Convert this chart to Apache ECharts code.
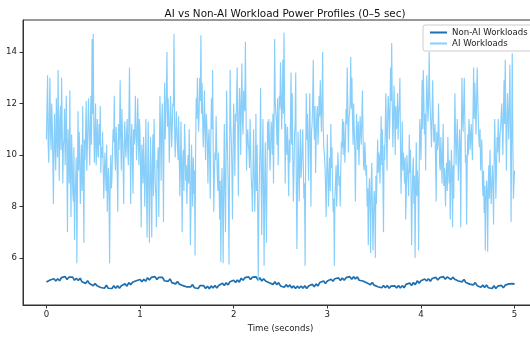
<!DOCTYPE html>
<html>
<head>
<meta charset="utf-8">
<script src="https://cdn.jsdelivr.net/npm/echarts@6.0.0/dist/echarts.min.js"></script>
<style>
html,body{margin:0;padding:0;background:#fff;}
#chart{width:530px;height:338px;}
</style>
</head>
<body>
<div id="chart"></div>
<script>
// ---- data ----
const titleText = 'AI vs Non-AI Workload Power Profiles (0\u20135 sec)';
const xName = 'Time (seconds)';
const seriesNames = ['Non-AI Workloads', 'AI Workloads'];
const xTicks = [0, 1, 2, 3, 4, 5];
const yTicks = [6, 8, 10, 12, 14];
const timeStart = 0;
const timeEnd = 5;

// AI workload power, main samples evenly over 0..5 s
const aiPower = [
10.6,13.1,9.7,13.0,10.2,11.3,8.1,11.6,9.4,10.8,
13.3,9.0,11.9,13.0,8.9,10.6,9.6,12.3,7.0,9.8,
12.5,7.6,9.9,8.2,6.7,9.1,5.8,11.7,10.9,8.1,
10.4,11.9,6.6,9.8,12.1,10.3,12.2,9.6,12.3,14.5,
14.7,9.7,12.0,10.5,10.0,11.2,11.9,10.3,10.9,8.3,
10.1,8.6,7.8,9.5,5.8,10.0,9.1,11.0,12.3,9.4,
10.6,7.8,10.2,12.9,9.4,10.7,8.1,11.3,9.9,11.4,
9.6,13.4,8.1,
11.2,8.5,10.4,12.3,9.8,12.2,9.6,10.8,7.2,9.9,
10.7,8.0,11.4,6.8,11.3,6.6,10.7,6.8,10.8,11.4,
8.9,7.2,9.5,7.6,12.3,9.0,12.0,7.4,12.8,11.5,
14.0,12.2,9.7,12.3,10.3,12.0,14.7,9.9,11.7,10.3,
11.5,8.4,11.3,7.0,10.2,11.2,9.0,8.1,10.0,11.0,
6.5,10.4,8.0,8.5,6.1,12.2,13.0,10.9,13.0,14.65,
12.8,10.3,12.5,9.8,11.3,8.9,11.0,8.3,12.2,13.3,
7.8,10.1,11.5,9.2,10.1,7.5,
5.85,9.5,5.8,11.2,7.0,12.5,9.6,5.75,13.3,10.5,
7.5,12.0,9.2,11.3,13.4,8.4,12.6,10.0,13.55,10.8,
11.9,14.4,9.4,11.0,10.2,11.4,9.1,7.8,11.0,7.8,
11.6,10.4,5.1,9.2,12.6,6.9,11.4,5.7,10.5,6.6,
11.3,11.4,9.4,11.3,10.0,8.9,14.5,11.6,10.4,9.6,
12.3,13.6,11.0,13.7,14.75,8.9,10.4,11.1,8.4,9.7,
13.2,12.4,8.2,10.8,13.2,6.35,10.9,8.2,11.0,9.5,
11.0,8.3,5.7,12.4,11.6,9.0,12.4,8.0,
11.2,13.7,10.6,9.3,11.5,10.4,12.3,12.9,10.9,14.0,
10.3,9.6,7.6,10.8,8.0,9.9,11.2,10.3,7.8,5.7,
9.0,8.0,10.1,8.8,8.0,10.5,11.4,11.3,9.7,11.8,
13.4,10.1,11.6,13.8,13.0,10.4,11.0,8.2,11.6,10.2,
9.6,11.5,10.4,12.5,9.6,10.5,9.2,8.0,6.5,9.1,
6.2,9.7,6.3,8.6,6.0,8.1,10.6,10.1,8.9,11.5,
11.0,7.0,9.8,12.4,9.4,12.3,10.6,13.4,14.35,10.3,
12.7,10.0,11.0,12.4,11.6,13.0,
8.5,11.3,10.1,8.9,7.5,10.0,9.0,10.8,10.2,6.5,
9.4,8.1,6.0,10.5,9.4,6.3,11.4,9.8,12.9,13.3,
10.8,9.4,13.1,11.3,14.0,11.7,10.3,12.9,10.5,11.2,
8.2,10.2,12.0,9.6,10.7,8.9,11.2,9.5,8.0,9.7,
10.7,8.9,7.5,10.2,7.2,8.3,12.4,9.6,11.4,9.0,
11.0,7.2,13.0,10.9,13.0,9.7,7.3,10.8,11.4,10.2,
11.2,9.8,13.4,12.8,10.8,13.4,11.4,10.3,9.4,10.6,
8.4,7.75,6.3,9.0,6.25,9.6,10.2,8.1,9.6,7.3,
11.4,8.3,10.7,11.4,9.7,11.0,12.0,10.0,12.9,13.7,
9.4,12.4,10.6,13.5,7.4,13.95,8.3,9.4
];

// AI workload power, the samples lying between the main samples above
const aiPowerMid = [
11.8,10.4,11.5,10.9,12.0,9.8,10.5,10.1,12.2,9.9,
10.7,11.4,10.2,11.1,10.4,11.8,10.9,9.6,11.0,8.9,
9.4,10.8,8.6,10.3,8.3,9.9,8.7,9.4,10.1,9.2,
8.6,9.3,10.6,10.9,9.4,11.3,10.7,11.0,10.4,11.6,
11.1,10.8,9.6,11.4,9.9,10.4,9.3,9.9,9.6,9.2,
9.4,10.4,8.9,8.2,9.1,8.7,10.2,10.5,10.0,11.1,
9.3,11.2,10.8,10.6,11.8,9.8,10.4,10.3,10.8,10.2,
11.6,10.5,10.6,
9.7,11.0,10.7,11.1,10.6,10.9,11.4,9.2,10.4,8.9,
9.6,9.4,8.8,9.3,8.7,9.1,8.9,9.7,8.4,10.0,
8.5,9.8,10.3,9.9,10.9,11.2,10.2,11.0,10.6,12.4,
11.1,11.3,10.9,11.6,11.0,11.9,11.2,10.6,11.0,9.8,
10.0,9.6,9.2,9.9,8.6,10.4,9.6,9.2,8.9,9.5,
7.9,9.3,9.9,9.4,10.3,11.4,11.8,11.7,12.1,11.6,
11.5,11.2,10.9,11.6,10.4,10.6,9.7,10.8,11.0,10.5,
9.2,9.8,10.3,8.6,8.9,9.0,
8.4,8.0,9.1,8.6,9.9,10.6,8.3,9.8,11.2,9.4,
10.3,10.8,11.6,12.1,10.9,11.4,11.8,12.2,11.3,12.5,
11.7,11.9,10.6,10.4,9.5,10.3,8.7,9.4,9.2,9.0,
8.6,8.1,7.9,10.3,9.1,9.7,8.4,9.0,8.2,9.5,
10.2,10.7,10.1,10.9,11.6,11.2,12.1,11.3,12.2,11.0,
11.8,12.4,12.0,11.6,11.9,11.2,10.0,9.8,10.6,11.3,
10.4,9.9,9.4,11.2,9.0,8.8,9.6,10.0,9.1,10.3,
9.6,8.9,9.8,10.6,10.2,11.1,10.4,10.9,
12.1,11.3,11.9,10.8,11.9,11.1,11.5,11.7,12.2,11.0,
10.0,8.8,9.3,9.4,9.1,8.6,9.5,8.7,8.3,8.4,
9.6,8.9,9.5,9.2,9.4,10.3,10.0,10.6,10.5,11.2,
11.9,11.4,12.1,11.8,11.4,12.0,10.2,10.3,10.8,11.3,
10.5,11.0,11.4,10.8,9.4,10.0,9.6,8.7,8.5,8.1,
8.9,8.0,7.7,8.3,9.2,9.5,9.3,9.9,10.1,9.6,
9.0,10.4,11.0,10.8,11.3,11.8,11.5,12.1,11.9,11.4,
11.7,11.9,11.2,10.6,12.0,10.4,
9.9,9.4,9.6,9.9,8.6,9.5,8.4,9.3,8.8,8.2,
9.9,9.2,8.6,8.4,8.8,9.5,10.8,11.3,11.0,12.1,
11.6,11.8,12.2,11.9,12.4,11.1,11.6,11.4,10.8,9.7,
10.9,10.4,10.8,9.4,9.9,10.1,8.8,9.0,9.4,8.6,
9.5,9.8,8.9,9.3,9.6,10.4,10.8,10.5,10.2,9.8,
10.4,10.8,11.5,11.9,11.3,10.0,9.6,10.0,11.0,10.7,
10.4,11.7,11.4,12.0,11.9,12.3,10.6,11.0,9.9,9.0,
9.4,8.8,8.2,8.6,8.9,8.3,9.0,8.8,8.9,9.6,
10.2,9.4,10.1,10.5,10.8,11.5,11.1,11.7,11.2,11.6,
11.1,11.5,12.0,10.8,10.9,10.6,8.9
];

// Non-AI workload power, sampled evenly over 0..5 s
const nonAiPower = [
5.07,5.02,5.15,5.08,5.20,5.11,5.20,5.12,5.24,5.18,5.28,5.17,5.26,5.19,
5.26,5.14,5.22,5.13,5.22,5.08,5.13,5.02,5.12,5.01,5.06,4.93,5.01,4.93,4.99,4.86,4.93,4.83,4.95,4.83,4.89,4.82,4.93,
4.83,4.93,4.83,4.93,4.90,5.00,4.91,5.05,4.97,5.06,4.99,5.12,5.07,5.17,5.08,5.18,5.10,5.24,5.15,5.25,5.18,5.28,
5.17,5.25,5.18,5.25,5.12,5.19,5.10,5.19,5.05,5.10,5.00,5.09,4.99,5.06,4.93,5.00,4.88,4.95,4.88,4.97,4.85,4.92,4.82,4.93,4.86,4.93,4.82,4.91,4.81,
4.92,4.84,4.94,4.84,4.94,4.87,5.02,4.94,5.04,4.96,5.08,5.04,5.14,5.05,5.15,5.07,5.22,5.14,5.24,5.17,5.27,5.17,5.26,
5.19,5.27,5.15,5.23,5.11,5.20,5.11,5.17,5.04,5.10,4.98,5.08,4.97,5.05,4.92,4.97,4.87,4.97,4.88,4.96,4.84,4.92,4.82,4.91,4.83,4.92,
4.83,4.93,4.82,4.92,4.88,4.98,4.89,5.00,4.92,5.05,4.99,5.11,5.01,5.11,5.04,5.18,5.10,5.20,5.14,5.23,5.13,5.23,5.14,5.24,5.19,5.28,5.18,5.28,5.19,
5.27,5.14,5.21,5.11,5.18,5.04,5.08,4.97,5.05,4.95,5.02,4.89,4.96,4.85,4.93,4.85,4.94,4.83,4.91,4.84,
4.92,4.84,4.94,4.84,4.93,4.85,4.98,4.93,5.03,4.94,5.05,4.97,5.12,5.03,5.12,5.06,5.19,5.11,5.20,5.10,5.21,5.16,5.25,5.15,5.24,5.18,5.28,5.18,5.27,5.26,
5.17,5.26,5.18,5.24,5.11,5.18,5.08,5.17,5.05,5.12,4.99,5.05,4.96,5.05,4.93,5.00,4.87,4.95,4.86,4.96,4.85,4.90,4.82,4.93,4.82,4.91,
4.84,4.94,4.85,4.95,4.90,5.00,4.93,5.01,4.99
];

// ---- build series from the arrays ----
function evenPairs(values) {
  const step = (timeEnd - timeStart) / (values.length - 1);
  return values.map((v, i) => [timeStart + i * step, v]);
}
function aiPairs(main, mid) {
  const step = (timeEnd - timeStart) / (main.length - 1);
  const out = [];
  for (let i = 0; i < main.length; i++) {
    out.push([timeStart + i * step, main[i]]);
    if (i < mid.length) out.push([timeStart + (i + 0.5) * step, mid[i]]);
  }
  return out;
}

const FONT = 'DejaVu Sans';
const chart = echarts.init(document.getElementById('chart'), null, { renderer: 'canvas' });

chart.setOption({
  animation: false,
  backgroundColor: '#ffffff',
  title: {
    text: titleText,
    left: 280,
    top: 4,
    textAlign: 'center',
    textStyle: { fontFamily: FONT, fontSize: 10.4, fontWeight: 'normal', color: '#111' }
  },
  legend: {
    orient: 'vertical',
    left: 423,
    top: 25,
    padding: [3, 7, 3, 7],
    itemGap: 2,
    itemWidth: 17,
    itemHeight: 2,
    backgroundColor: 'rgba(255,255,255,0.85)',
    borderColor: '#cccccc',
    borderWidth: 1,
    borderRadius: 2,
    textStyle: { fontFamily: FONT, fontSize: 8.6, color: '#222' },
    data: [
      { name: seriesNames[0], icon: 'rect' },
      { name: seriesNames[1], icon: 'rect' }
    ]
  },
  grid: {
    left: 23, top: 20, width: 515, height: 285,
    outerBoundsMode: 'none',
    containLabel: false,
    show: true, borderColor: '#333', borderWidth: 1, backgroundColor: 'transparent'
  },
  xAxis: {
    type: 'value',
    min: -0.25,
    max: 5.25,
    name: xName,
    nameLocation: 'middle',
    nameGap: 16,
    nameTextStyle: { fontFamily: FONT, fontSize: 8.6, color: '#222' },
    axisLine: { show: true, onZero: false, lineStyle: { color: '#333', width: 1 } },
    axisTick: { show: true, length: 3.5, lineStyle: { color: '#333' }, customValues: xTicks },
    axisLabel: { fontFamily: FONT, fontSize: 8.6, color: '#222', margin: 5, customValues: xTicks },
    splitLine: { show: false }
  },
  yAxis: {
    type: 'value',
    min: 4.18,
    max: 15.24,
    axisLine: { show: true, onZero: false, lineStyle: { color: '#333', width: 1 } },
    axisTick: { show: true, length: 3.5, lineStyle: { color: '#333' }, customValues: yTicks },
    axisLabel: { fontFamily: FONT, fontSize: 8.6, color: '#222', margin: 6, customValues: yTicks },
    splitLine: { show: false }
  },
  series: [
    {
      name: seriesNames[0],
      type: 'line',
      data: evenPairs(nonAiPower),
      showSymbol: false,
      symbol: 'none',
      lineStyle: { color: '#1f6eae', width: 1.7 },
      itemStyle: { color: '#1f6eae' },
      z: 2
    },
    {
      name: seriesNames[1],
      type: 'line',
      data: aiPairs(aiPower, aiPowerMid),
      showSymbol: false,
      symbol: 'none',
      lineStyle: { color: '#87CEFA', width: 1.15 },
      itemStyle: { color: '#87CEFA' },
      z: 3
    }
  ]
});
</script>
</body>
</html>
